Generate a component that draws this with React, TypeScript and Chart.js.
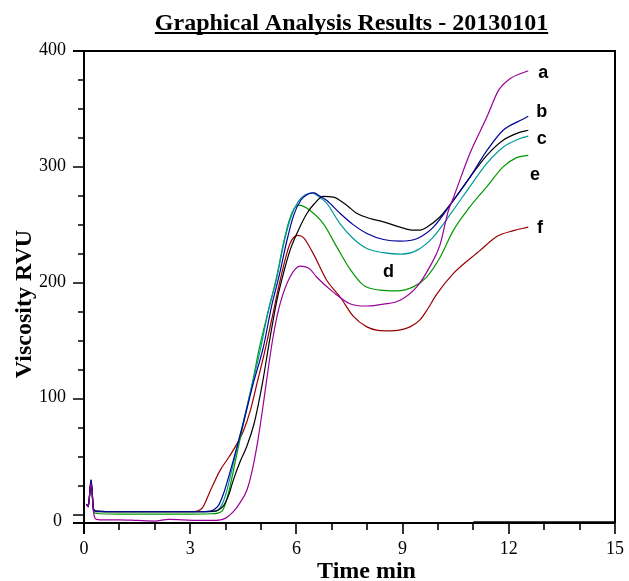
import React, { useEffect, useRef } from "react";
import { Chart, registerables } from "chart.js";

Chart.register(...registerables);

const TITLE = "Graphical Analysis Results - 20130101";
const X_TITLE = "Time min";
const Y_TITLE = "Viscosity RVU";
const X_MAJOR_TICKS = [0, 3, 6, 9, 12, 15];
const X_MINOR_TICKS = [1, 2, 4, 5, 7, 8, 10, 11, 13, 14];
const Y_MAJOR_TICKS = [0, 100, 200, 300, 400];
const Y_MINOR_TICKS = [25, 50, 75, 125, 150, 175, 225, 250, 275, 325, 350, 375];

const seriesPurple: [number, number][] = [
  [0.07, 9], [0.12, 7], [0.2, 27], [0.27, 2], [0.35, -4], [0.6, -4.5], [1, -4.5], [1.5, -5], [2, -5.5],
  [2.4, -4], [2.8, -4.5], [3.2, -5], [3.6, -5], [3.85, -4.5], [4.0, -3], [4.22, 2.6], [4.4, 10], [4.6, 21],
  [4.75, 38], [4.9, 62], [5.05, 92], [5.2, 125], [5.35, 155], [5.54, 182], [5.82, 205], [6.1, 214.4],
  [6.38, 212], [6.57, 205], [7.04, 192], [7.51, 182], [7.99, 180], [8.46, 181.6], [8.93, 185], [9.4, 196.5],
  [9.77, 214], [10.06, 233], [10.29, 262], [10.43, 273], [10.9, 311.6], [11.38, 343], [11.71, 366],
  [12.03, 376], [12.55, 383],
];
const seriesBlue: [number, number][] = [
  [0.07, 9], [0.12, 7], [0.2, 30], [0.27, 5], [0.35, 3], [1, 2.5], [2, 2.5], [3, 2.5], [3.5, 2.8], [3.65, 4],
  [3.8, 8], [3.94, 18], [4.08, 32], [4.22, 47], [4.5, 79], [4.78, 113], [5.07, 145], [5.3, 180], [5.52, 207],
  [5.72, 235], [5.92, 258], [6.12, 271], [6.32, 276.5], [6.5, 277.6], [6.6, 276], [6.86, 271], [7.23, 260],
  [7.61, 250], [7.99, 242.6], [8.46, 237.4], [8.93, 236], [9.4, 238], [9.87, 248], [10.43, 271], [10.9, 291],
  [11.38, 314], [11.84, 331.6], [12.32, 340], [12.55, 343.7],
];
const seriesBlack: [number, number][] = [
  [0.07, 9], [0.12, 7], [0.2, 30], [0.27, 5], [0.35, 3], [1, 2.5], [2, 2.5], [3, 2.5], [3.6, 2.8], [3.8, 4],
  [3.95, 8], [4.1, 18], [4.22, 30], [4.4, 45], [4.6, 59], [4.8, 78], [4.93, 96], [5.05, 115], [5.23, 148],
  [5.45, 185], [5.65, 210], [5.82, 228], [6.05, 245], [6.3, 260], [6.5, 268], [6.76, 274.5], [7.04, 274],
  [7.42, 267], [7.7, 260], [8.08, 255.5], [8.46, 252.6], [8.93, 248], [9.3, 245.4], [9.5, 245.5], [9.68, 248],
  [10.06, 257], [10.43, 271], [10.9, 291], [11.38, 310], [11.84, 323], [12.32, 330], [12.55, 331.6],
];
const seriesTeal: [number, number][] = [
  [0.07, 9], [0.12, 7], [0.2, 28], [0.27, 4], [0.35, 2.5], [1, 2.5], [2, 2.5], [3, 2.5], [3.7, 2.8], [3.85, 6],
  [4.0, 17], [4.15, 35], [4.31, 56], [4.5, 80], [4.68, 103], [4.85, 125], [5.0, 145], [5.2, 175], [5.45, 205],
  [5.65, 235], [5.85, 257], [6.05, 270], [6.25, 276], [6.45, 277.5], [6.6, 275], [6.86, 268.5], [7.23, 251],
  [7.61, 238], [7.99, 229.6], [8.46, 226], [8.93, 224.7], [9.4, 228], [9.87, 239.7], [10.43, 262.7],
  [10.9, 283], [11.38, 303], [11.84, 317], [12.32, 324.5], [12.55, 326.5],
];
const seriesGreen: [number, number][] = [
  [0.07, 9], [0.12, 7], [0.2, 27], [0.27, 3], [0.35, 1], [1, 0.5], [2, 0.5], [3, 0.5], [3.6, 0.8], [3.9, 3],
  [4.05, 15], [4.2, 35], [4.35, 57], [4.5, 78], [4.65, 99], [4.8, 120], [4.94, 142], [5.2, 175], [5.44, 205],
  [5.62, 232], [5.76, 250], [5.9, 262], [6.05, 267], [6.2, 266], [6.38, 262.6], [6.76, 251], [7.14, 231],
  [7.51, 212], [7.89, 198], [8.36, 193.7], [8.83, 193], [9.3, 196.5], [9.68, 205], [10.06, 222], [10.43, 245],
  [10.9, 265.5], [11.38, 283], [11.84, 300], [12.22, 308], [12.55, 310],
];
const seriesRed: [number, number][] = [
  [0.07, 9], [0.12, 7], [0.2, 28], [0.27, 4], [0.35, 2.5], [1, 2.5], [2, 2.5], [3, 2.5], [3.2, 3], [3.35, 6],
  [3.56, 20], [3.84, 38], [4.1, 50], [4.3, 60], [4.5, 72], [4.7, 90], [4.9, 115], [5.1, 140], [5.3, 168],
  [5.54, 202], [5.82, 234], [6.05, 241], [6.2, 239], [6.48, 225], [6.86, 202], [7.23, 188], [7.61, 171],
  [7.99, 162], [8.3, 159], [8.64, 158.6], [9.21, 162], [9.49, 168], [9.7, 177], [9.96, 190], [10.43, 208],
  [11.19, 228], [11.66, 240], [12.13, 245], [12.55, 248],
];
const seriesBase: [number, number][] = [[11, -6.3], [15, -6.3]];

const CURVE_LABELS = ["a", "b", "c", "d", "e", "f"];
const CURVE_LABEL_X = [12.97, 12.93, 12.93, 8.6, 12.74, 12.88];
const CURVE_LABEL_Y = [380.9, 347.7, 323.9, 209.7, 293.1, 247.1];

const SERIES = [
  { data: seriesPurple, color: "#990099", width: 1.2 },
  { data: seriesBlue, color: "#000099", width: 1.2 },
  { data: seriesBlack, color: "#000000", width: 1.2 },
  { data: seriesTeal, color: "#009999", width: 1.2 },
  { data: seriesGreen, color: "#009900", width: 1.2 },
  { data: seriesRed, color: "#990000", width: 1.2 },
  { data: seriesBase, color: "#000000", width: 1.6 },
];

const SERIF = "'Liberation Serif', 'Times New Roman', serif";
const SANS = "'Liberation Sans', Arial, sans-serif";

const decorPlugin = {
  id: "decor",
  afterDatasetsDraw(chart: any) {
    const ctx: CanvasRenderingContext2D = chart.ctx;
    const xs = chart.scales.x;
    const ys = chart.scales.y;
    const { left, right, top, bottom } = chart.chartArea;
    ctx.save();
    ctx.strokeStyle = "#000";
    ctx.fillStyle = "#000";
    ctx.lineCap = "butt";

    // frame
    ctx.lineWidth = 2;
    ctx.beginPath();
    ctx.moveTo(left - 11, top);
    ctx.lineTo(right, top);
    ctx.lineTo(right, bottom);
    ctx.stroke();
    ctx.beginPath();
    ctx.moveTo(left, top);
    ctx.lineTo(left, bottom + 11);
    ctx.moveTo(left - 11, bottom);
    ctx.lineTo(right, bottom);
    ctx.stroke();

    // ticks
    ctx.lineWidth = 1.6;
    ctx.beginPath();
    X_MAJOR_TICKS.forEach((v) => {
      const px = Math.round(xs.getPixelForValue(v));
      ctx.moveTo(px, bottom);
      ctx.lineTo(px, bottom + 11);
    });
    X_MINOR_TICKS.forEach((v) => {
      const px = Math.round(xs.getPixelForValue(v));
      ctx.moveTo(px, bottom);
      ctx.lineTo(px, bottom + 7);
    });
    Y_MAJOR_TICKS.forEach((v) => {
      const py = Math.round(ys.getPixelForValue(v));
      ctx.moveTo(left, py);
      ctx.lineTo(left - 11, py);
    });
    Y_MINOR_TICKS.forEach((v) => {
      const py = Math.round(ys.getPixelForValue(v));
      ctx.moveTo(left, py);
      ctx.lineTo(left - 6, py);
    });
    ctx.stroke();

    // tick labels
    ctx.font = `18px ${SERIF}`;
    ctx.textAlign = "center";
    ctx.textBaseline = "middle";
    X_MAJOR_TICKS.forEach((v) => {
      ctx.fillText(String(v), xs.getPixelForValue(v), bottom + 26);
    });
    ctx.textAlign = "right";
    Y_MAJOR_TICKS.forEach((v) => {
      const py = ys.getPixelForValue(v);
      if (v === 0) ctx.fillText(String(v), left - 22, py + 7);
      else ctx.fillText(String(v), left - 18, py - 1);
    });

    // title
    ctx.font = `bold 24px ${SERIF}`;
    ctx.textAlign = "center";
    ctx.textBaseline = "alphabetic";
    const tx = 351.5;
    ctx.fillText(TITLE, tx, 30);
    const tw = ctx.measureText(TITLE).width;
    ctx.lineWidth = 2;
    ctx.beginPath();
    ctx.moveTo(tx - tw / 2, 33);
    ctx.lineTo(tx + tw / 2, 33);
    ctx.stroke();

    // axis titles
    ctx.fillText(X_TITLE, 366.5, 578);
    ctx.save();
    ctx.translate(31, 304);
    ctx.rotate(-Math.PI / 2);
    ctx.fillText(Y_TITLE, 0, 0);
    ctx.restore();

    // curve labels
    ctx.font = `bold 18px ${SANS}`;
    ctx.textAlign = "center";
    ctx.textBaseline = "middle";
    CURVE_LABELS.forEach((t, i) => {
      ctx.fillText(t, xs.getPixelForValue(CURVE_LABEL_X[i]), ys.getPixelForValue(CURVE_LABEL_Y[i]));
    });
    ctx.restore();
  },
};

export default function App() {
  const ref = useRef<HTMLCanvasElement>(null);
  useEffect(() => {
    const canvas = ref.current;
    if (!canvas) return;
    const chart = new Chart(canvas, {
      type: "line",
      data: {
        datasets: SERIES.map((s) => ({
          data: s.data.map(([x, y]) => ({ x, y })),
          borderColor: s.color,
          backgroundColor: s.color,
          borderWidth: s.width,
          pointRadius: 0,
          fill: false,
          cubicInterpolationMode: "monotone" as const,
        })),
      },
      options: {
        responsive: false,
        animation: false,
        devicePixelRatio: 1,
        layout: { padding: { left: 84, right: 14, top: 51, bottom: 58 } },
        plugins: {
          legend: { display: false },
          tooltip: { enabled: false },
          title: { display: false },
        },
        scales: {
          x: { type: "linear", min: 0, max: 15, display: false },
          y: { type: "linear", min: -7.2, max: 400, display: false },
        },
      },
      plugins: [decorPlugin],
    });
    return () => chart.destroy();
  }, []);
  return (
    <div style={{ position: "absolute", left: 0, top: 0, width: 629, height: 581, background: "#fff" }}>
      <canvas ref={ref} width={629} height={581} style={{ display: "block" }} />
    </div>
  );
}
